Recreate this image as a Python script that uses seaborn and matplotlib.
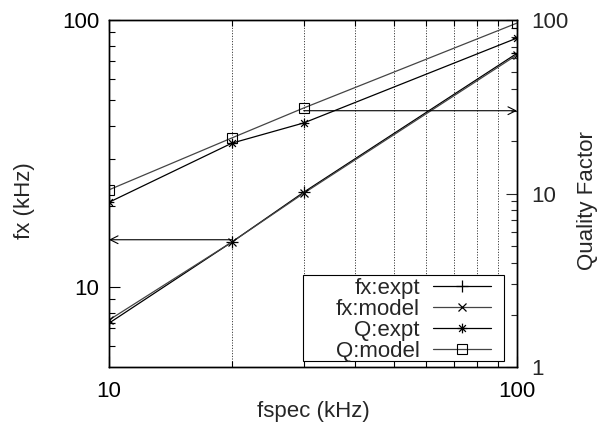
import numpy as np
import pandas as pd
import matplotlib
matplotlib.use("Agg")
import matplotlib.pyplot as plt
import seaborn as sns
from matplotlib.ticker import NullFormatter, FixedLocator, FixedFormatter
from matplotlib.patches import Rectangle
from matplotlib.path import Path

# data
fspec = [10, 20, 30, 100]
fx_expt = [7.3, 14.7, 22.6, 75.0]
fx_model = [7.5, 14.7, 22.4, 74.0]
q_expt = [8.9, 19.5, 25.5, 78.7]
q_model = [10.5, 20.9, 31.1, 96.0]

FS = 16
sns.set_style("ticks")
plt.rcParams['font.family'] = ['Liberation Sans', 'DejaVu Sans']
plt.rcParams['font.size'] = FS

# asterisk marker like gnuplot's point type 3
star = Path([(-1, 0), (1, 0), (0, -1), (0, 1), (-0.7, -0.7), (0.7, 0.7), (-0.7, 0.7), (0.7, -0.7)],
            [Path.MOVETO, Path.LINETO] * 4)

W, H = 600, 423
L, R, T, B = 109, 517, 20, 367
fig = plt.figure(figsize=(W / 100, H / 100), dpi=100)
ax = fig.add_axes([L / W, 1 - B / H, (R - L) / W, (B - T) / H])
ax2 = ax.twinx()

def px(x, y):
    # pixel position -> axes fraction
    return (x - L) / (R - L), (B - y) / (B - T)

df = pd.DataFrame({"fspec": fspec, "fx_expt": fx_expt, "fx_model": fx_model,
                   "q_expt": q_expt, "q_model": q_model})

lw = 0.9
sns.lineplot(data=df, x="fspec", y="fx_expt", ax=ax, color="black", lw=lw,
             marker="+", markersize=8, markeredgewidth=0.9, markeredgecolor="black",
             label="fx:expt", legend=False)
sns.lineplot(data=df, x="fspec", y="fx_model", ax=ax, color="#444444", lw=lw,
             marker="x", markersize=6, markeredgewidth=0.9, markeredgecolor="black",
             label="fx:model", legend=False)
sns.lineplot(data=df, x="fspec", y="q_expt", ax=ax2, color="black", lw=lw,
             marker=star, markersize=7, markeredgewidth=0.9, markeredgecolor="black",
             label="Q:expt", legend=False)
sns.lineplot(data=df, x="fspec", y="q_model", ax=ax2, color="#444444", lw=lw,
             marker="s", markersize=7, markerfacecolor="none", markeredgecolor="black",
             markeredgewidth=0.8, label="Q:model", legend=False)

for a in (ax, ax2):
    a.set_xscale("log")
    a.set_yscale("log")
    a.set_xlim(10, 100)
ax.set_ylim(5, 100)
ax2.set_ylim(1, 100)

# ticks
ax.xaxis.set_major_locator(FixedLocator([10, 100]))
ax.xaxis.set_major_formatter(FixedFormatter(["10", "100"]))
ax.xaxis.set_minor_locator(FixedLocator(list(range(20, 100, 10))))
ax.xaxis.set_minor_formatter(NullFormatter())
ax.yaxis.set_major_locator(FixedLocator([10, 100]))
ax.yaxis.set_major_formatter(FixedFormatter(["10", "100"]))
ax.yaxis.set_minor_locator(FixedLocator([6, 7, 8, 9] + list(range(20, 100, 10))))
ax.yaxis.set_minor_formatter(NullFormatter())
ax2.yaxis.set_major_locator(FixedLocator([1, 10, 100]))
ax2.yaxis.set_major_formatter(FixedFormatter(["1", "10", "100"]))
ax2.yaxis.set_minor_locator(FixedLocator(list(range(2, 10)) + list(range(20, 100, 10))))
ax2.yaxis.set_minor_formatter(NullFormatter())

ax.tick_params(axis="both", which="both", direction="in", top=True, colors="black", labelsize=FS)
ax.tick_params(which="major", length=8, width=0.8, pad=7)
ax.tick_params(which="minor", length=4, width=0.8)
ax.tick_params(axis="x", which="major", pad=10)
ax2.tick_params(axis="y", which="both", direction="in", labelsize=FS)
ax2.tick_params(which="major", length=8, width=0.8, pad=10)
ax2.tick_params(which="minor", length=4, width=0.8)

ax.grid(False)
ax2.grid(False)
for gx in range(20, 100, 10):
    ax.axvline(gx, color="black", lw=0.6, ls=(0, (1.2, 2)), zorder=0)

for a in (ax, ax2):
    for s in a.spines.values():
        s.set_color("black")
        s.set_linewidth(1.0)

ax.set_xlabel("fspec (kHz)")
ax.set_ylabel("fx (kHz)")
ax2.set_ylabel("Quality Factor")
ax.xaxis.set_label_coords(0.5, px(0, 401)[1])
ax.yaxis.set_label_coords(px(35, 0)[0], 0.48)
ax2.yaxis.set_label_coords(px(577, 0)[0], 0.48)

# arrows
ax.annotate("", xy=(10, 15), xytext=(20, 15),
            arrowprops=dict(arrowstyle="->", color="black", lw=0.8, mutation_scale=14,
                            shrinkA=0, shrinkB=0))
ax2.annotate("", xy=(100, 30), xytext=(30, 30),
             arrowprops=dict(arrowstyle="->", color="black", lw=0.8, mutation_scale=14,
                             shrinkA=0, shrinkB=0))

# legend box drawn separately, gnuplot style
bx0, by0 = px(303, 361)
bx1, by1 = px(504, 275)
ax2.add_patch(Rectangle((bx0, by0), bx1 - bx0, by1 - by0, transform=ax2.transAxes,
                        facecolor="white", edgecolor="black", lw=0.8, zorder=4))

h1, l1 = ax.get_legend_handles_labels()
h2, l2 = ax2.get_legend_handles_labels()
leg = ax2.legend(h1 + h2, l1 + l2, loc="lower right", bbox_to_anchor=px(491, 362),
                 markerfirst=False, frameon=False, borderpad=0, labelspacing=0.0,
                 handlelength=2.6, handletextpad=0.6, fontsize=FS, borderaxespad=0)
leg.set_zorder(5)
for t in leg.get_texts():
    t.set_ha("right")
leg._legend_box.align = "right"

fig.savefig("out.png", dpi=100)
